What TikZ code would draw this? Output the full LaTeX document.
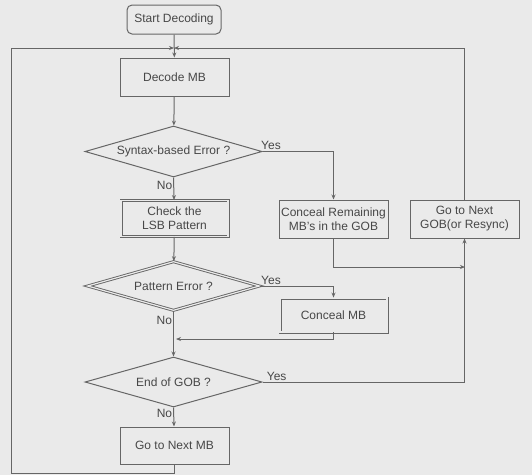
\documentclass[tikz,border=0pt]{standalone}
\usepackage{fontspec}
\setmainfont{Liberation Sans}
\usetikzlibrary{shapes.geometric,arrows.meta}
\definecolor{bgc}{HTML}{EAEAEA}
\definecolor{lnc}{HTML}{666666}
\definecolor{txc}{HTML}{474747}
\begin{document}
\begin{tikzpicture}[x=1pt,y=-1pt,
  every node/.style={text=txc,font=\fontsize{12}{14}\selectfont},
  base/.style={draw=lnc,line width=1pt,align=center,inner sep=0pt},
  procbox/.style={base,rectangle,minimum width=109pt,minimum height=38pt},
  dblbox/.style={procbox,double=bgc,double distance=1.2pt,line width=0.9pt,minimum width=107pt,minimum height=36pt},
  termbox/.style={base,rounded corners=5pt,minimum width=94pt,minimum height=29pt},
  decision/.style={base,diamond,aspect=3.5,minimum width=177pt,minimum height=51pt},
  dbldecision/.style={decision,double=bgc,double distance=1.2pt,line width=0.9pt,minimum width=172pt,minimum height=49pt},
  conn/.style={draw=lnc,line width=1pt},
  arr/.style={conn,-{Stealth[length=5pt,width=4pt]}},
  lbl/.style={inner sep=1pt}
]
\fill[bgc] (0,0) rectangle (532,475);
\useasboundingbox (0,0) rectangle (532,475);

\node[termbox] (start) at (174,19.5) {Start Decoding};
\node[procbox] (decode) at (174.5,77) {Decode MB};
\node[decision] (syntax) at (173.5,151.5) {Syntax-based Error ?};
\node[dblbox] (check) at (174.5,218.5) {Check the\\LSB Pattern};
\node[procbox] (concealR) at (333.5,219) {Conceal Remaining\\MB's in the GOB};
\node[procbox] (gob) at (464.5,219) {Go to Next\\GOB(or Resync)};
\node[dbldecision] (pattern) at (173.5,286) {Pattern Error ?};
\node[dblbox,minimum height=34pt] (concealMB) at (333.5,315) {Conceal MB};
\node[decision,minimum height=50pt] (endgob) at (173.5,382) {End of GOB ?};
\node[procbox,minimum height=37pt] (nextmb) at (174.5,445.5) {Go to Next MB};

\coordinate (join) at (174,48);
\coordinate (mid1) at (176,339);
\coordinate (mid2) at (465,267);

% main flow
\draw[arr] (start) -- (decode);
\draw[arr] (decode) -- (syntax);
\draw[arr] (syntax.south) -- node[lbl,pos=0.35,left] {No} (check);
\draw[arr] (check) -- (pattern);
\draw[arr] (pattern.south) -- node[lbl,pos=0.2,left] {No} (endgob.north);
\draw[arr] (endgob.south) -- node[lbl,pos=0.3,left] {No} (nextmb);

% yes branches
\draw[arr] (syntax.east) -- node[lbl,pos=0.12,above] {Yes} (concealR.north |- syntax.east) -- (concealR.north);
\draw[arr] (pattern.east) -- node[lbl,pos=0.15,above] {Yes} (concealMB.north |- pattern.east) -- (concealMB.north);
\draw[arr] (endgob.east) -- node[lbl,pos=0.07,above] {Yes} (gob.south |- endgob.east) -- (gob.south);

% merges
\draw[arr] (concealR.south) |- (mid2);
\draw[arr] (concealMB.south) |- (mid1);

% loops back to top
\draw[arr] (nextmb.south) -- (174.5,473) -- (11,473) -- (11,48) -- (join);
\draw[arr] (gob.north) -- (464.5,48) -- (join);
\end{tikzpicture}
\end{document}
